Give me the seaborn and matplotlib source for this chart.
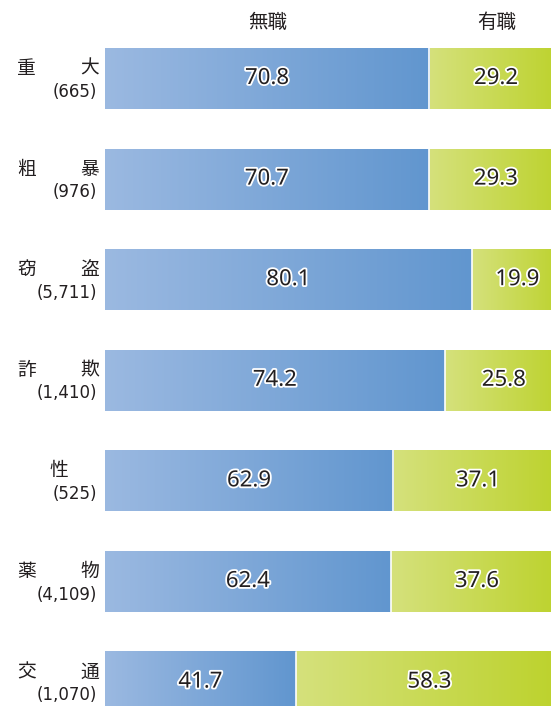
import numpy as np
import pandas as pd
import matplotlib
matplotlib.use("Agg")
import matplotlib.pyplot as plt
import matplotlib.patheffects as pe
from matplotlib.colors import LinearSegmentedColormap
from matplotlib.transforms import blended_transform_factory
import seaborn as sns

# --- data -------------------------------------------------------------
categories = ["重大", "粗暴", "窃盗", "詐欺", "性", "薬物", "交通"]
counts = ["(665)", "(976)", "(5,711)", "(1,410)", "(525)", "(4,109)", "(1,070)"]
unemployed = [70.8, 70.7, 80.1, 74.2, 62.9, 62.4, 41.7]
employed = [29.2, 29.3, 19.9, 25.8, 37.1, 37.6, 58.3]
series_names = ["無職", "有職"]

df = pd.DataFrame({
    "category": categories,
    "unemployed": unemployed,
    "total": [a + b for a, b in zip(unemployed, employed)],
})

sns.set_theme(style="white")
plt.rcParams["font.family"] = ["Noto Sans CJK JP", "DejaVu Sans"]

W, H = 551, 706
fig = plt.figure(figsize=(W / 100, H / 100), dpi=100)
ax = fig.add_axes([105 / W, 0, 458 / W, 1])

# stacked bars: full-length "employed" bar underneath, "unemployed" on top
sns.barplot(data=df, y="category", x="total", orient="h", width=0.606,
            color="#c9dc55", ax=ax)
n = len(categories)
sns.barplot(data=df, y="category", x="unemployed", orient="h", width=0.606,
            color="#7aa6d8", ax=ax)

blue_cmap = LinearSegmentedColormap.from_list("blue", ["#9bb9e1", "#6196cf"])
green_cmap = LinearSegmentedColormap.from_list("green", ["#d5e17c", "#bcd22b"])
grad = np.linspace(0, 1, 256).reshape(1, -1)

patches = list(ax.patches)
green_patches = patches[:n]
blue_patches = patches[n:2 * n]

dark = "#231f20"
halo = [pe.withStroke(linewidth=2.6, foreground="white")]
num_font = ["Noto Sans", "DejaVu Sans"]

for i in range(n):
    gp, bp = green_patches[i], blue_patches[i]
    y0 = gp.get_y()
    h = gp.get_height()
    xb = bp.get_width()
    xt = gp.get_width()
    # green segment from the end of the blue bar to the total
    ax.imshow(grad, cmap=green_cmap, aspect="auto", interpolation="bicubic",
              extent=[xb, xt, y0 + h, y0], zorder=2)
    ax.imshow(grad, cmap=blue_cmap, aspect="auto", interpolation="bicubic",
              extent=[0, xb, y0 + h, y0], zorder=2)
    gp.set_visible(False)
    bp.set_visible(False)
    ax.plot([xb, xb], [y0, y0 + h], color="white", lw=1.2, zorder=3)
    yc = y0 + h / 2
    ax.text(xb / 2, yc, f"{unemployed[i]:.1f}", ha="center", va="center",
            fontsize=16, family=num_font, color=dark, path_effects=halo,
            zorder=4)
    ax.text((xb + xt) / 2, yc, f"{employed[i]:.1f}", ha="center", va="center",
            fontsize=16, family=num_font, color=dark, path_effects=halo,
            zorder=4)

ax.set_xlim(0, 100)
ax.set_ylim((H - 78.5) / 100.6, -78.5 / 100.6)
ax.axis("off")

# category labels on the left, with the case counts beneath
tr = blended_transform_factory(fig.transFigure, ax.transData)
for i, (cat, cnt) in enumerate(zip(categories, counts)):
    if len(cat) == 2:
        ax.text(17 / W, i - 0.1, cat[0], transform=tr, ha="left", va="center",
                fontsize=13.5, color=dark, clip_on=False)
        ax.text(99 / W, i - 0.1, cat[1], transform=tr, ha="right", va="center",
                fontsize=13.5, color=dark, clip_on=False)
    else:
        ax.text(59 / W, i - 0.1, cat, transform=tr, ha="center", va="center",
                fontsize=13.5, color=dark, clip_on=False)
    ax.text(97 / W, i + 0.13, cnt, transform=tr, ha="right", va="center",
            fontsize=12, family=["DejaVu Sans"], color=dark, clip_on=False)

# series headers above the first bar
fig.text(268 / W, 1 - 23 / H, series_names[0], ha="center", va="center",
         fontsize=14, color=dark)
fig.text(497 / W, 1 - 23 / H, series_names[1], ha="center", va="center",
         fontsize=14, color=dark)

fig.savefig("out.png", dpi=100)
